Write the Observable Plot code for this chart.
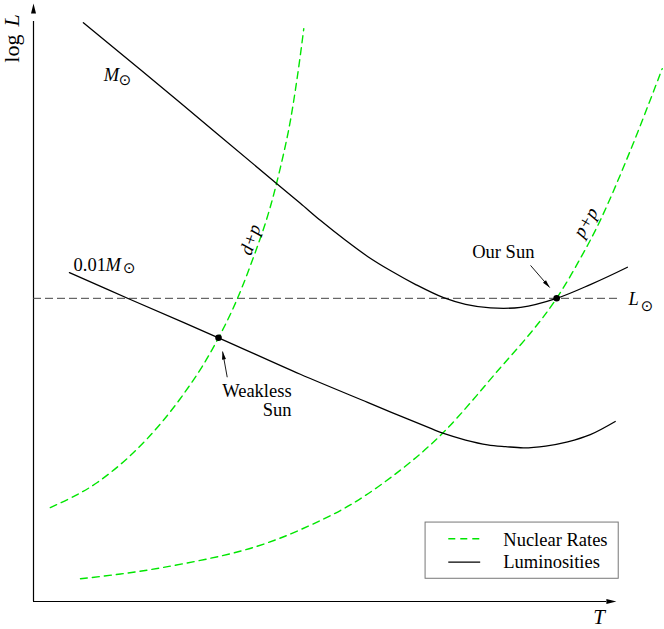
<!DOCTYPE html>
<html>
<head>
<meta charset="utf-8">
<script src="https://cdn.jsdelivr.net/npm/d3@7"></script>
<script src="https://cdn.jsdelivr.net/npm/@observablehq/plot@0.6"></script>
<style>
  html, body { margin: 0; padding: 0; background: #fff; }
  #chart svg { display: block; }
</style>
</head>
<body>
<div id="chart"></div>
<script>
// ---- Data (arbitrary units: T on 0–100, log L on 0–100) ----
// Luminosity of a 1 solar-mass star
const sunT = [8.6, 25.3, 41.9, 46.0, 49.5, 53.8, 57.6, 61.6, 65.9, 70.7, 74.5, 78.8, 84.0, 90.2, 96.0, 102.4];
const sunL = [96.8, 83.4, 69.9, 66.6, 63.7, 60.4, 57.7, 55.3, 53.0, 50.8, 49.7, 49.1, 49.2, 50.7, 53.0, 55.9];
// Luminosity of a 0.01 solar-mass star
const smallT = [6.2, 16.7, 31.9, 46.0, 57.6, 63.3, 68.6, 70.7, 74.5, 78.3, 81.4, 84.5, 88.3, 92.1, 96.0, 100.3];
const smallL = [55.0, 50.5, 44.1, 38.0, 33.3, 31.0, 28.9, 28.1, 27.0, 26.2, 25.9, 25.7, 26.0, 26.7, 27.9, 30.1];
// Nuclear rate d+p
const dpT = [2.9, 7.2, 11.0, 16.7, 22.4, 28.3, 31.9, 35.0, 38.8, 40.5, 41.9, 44.0, 45.5, 46.6];
const dpL = [15.7, 17.7, 19.9, 24.4, 30.3, 38.1, 44.1, 50.3, 59.9, 64.9, 69.9, 78.9, 87.8, 95.8];
// Nuclear rate p+p
const ppT = [8.1, 15.0, 22.4, 34.0, 40.0, 46.0, 54.7, 63.3, 70.7, 80.5, 86.2, 90.2, 94.3, 97.8, 102.9, 108.4];
const ppL = [3.8, 4.6, 5.7, 8.0, 9.7, 12.0, 16.2, 22.0, 28.3, 39.1, 45.5, 50.7, 57.4, 63.9, 75.4, 89.1];
// Solar luminosity level
const lSun = 50.7;
// Marked stars
const starNames = ["Our Sun", "Weakless Sun"];
const starT = [90.2, 31.9];
const starL = [50.7, 44.1];
// Legend entries
const legendNames = ["Nuclear Rates", "Luminosities"];

// ---- Build tables ----
const zip = (T, L) => T.map((t, i) => ({T: t, L: L[i]}));
const sunData = zip(sunT, sunL);
const smallData = zip(smallT, smallL);
const dpData = zip(dpT, dpL);
const ppData = zip(ppT, ppL);
const stars = starNames.map((n, i) => ({name: n, T: starT[i], L: starL[i]}));

// ---- Layout ----
const W = 664, H = 629;
const xDom = [0, 100], xRng = [33, 613];
const yDom = [0, 100], yRng = [601, 3];
const kx = (xRng[1] - xRng[0]) / (xDom[1] - xDom[0]);
const ky = (yRng[1] - yRng[0]) / (yDom[1] - yDom[0]);

const serif = "Liberation Serif, Times New Roman, serif";
const green = "#00e600";
const fs = 18.5;

// slender filled arrowhead, tip at origin, pointing up
const arrowHead = {
  draw(ctx, size) {
    const s = Math.sqrt(size / Math.PI);
    ctx.moveTo(0, 0);
    ctx.lineTo(s * 0.5, s * 2);
    ctx.lineTo(-s * 0.5, s * 2);
    ctx.closePath();
  }
};
const angleOf = (a) => {
  const dx = (a.x2 - a.x1) * kx, dy = (a.y2 - a.y1) * ky;
  return Math.atan2(dx, -dy) * 180 / Math.PI;
};

// annotation arrows (from label toward star)
const pointers = [
  {x1: 85.7, y1: 56.2, x2: 89.0, y2: 52.5},
  {x1: 33.4, y1: 37.5, x2: 32.6, y2: 41.8}
].map(a => ({...a, angle: angleOf(a)}));

const axisTips = [
  {x: 0, y: 100, angle: 0},
  {x: 100.5, y: 0, angle: 90}
];

const curve = "catmull-rom";

const chart = Plot.plot({
  width: W,
  height: H,
  marginLeft: 0, marginRight: 0, marginTop: 0, marginBottom: 0,
  style: {background: "white", fontFamily: serif},
  x: {domain: xDom, range: xRng, axis: null},
  y: {domain: yDom, range: yRng, axis: null},
  marks: [
    // axes
    Plot.ruleX([0], {y1: 0, y2: 97, stroke: "black", strokeWidth: 1.2}),
    Plot.ruleY([0], {x1: 0, x2: 98.8, stroke: "black", strokeWidth: 1.2}),
    Plot.dot(axisTips, {x: "x", y: "y", r: 5, symbol: arrowHead, rotate: "angle", fill: "black", stroke: "none"}),
    // solar luminosity level
    Plot.ruleY([lSun], {x1: 0, x2: 101.2, stroke: "#444", strokeWidth: 1, strokeDasharray: "8,4"}),
    // nuclear rates
    Plot.line(dpData, {x: "T", y: "L", curve, stroke: green, strokeWidth: 1.4, strokeDasharray: "7,5"}),
    Plot.line(ppData, {x: "T", y: "L", curve, stroke: green, strokeWidth: 1.4, strokeDasharray: "7,5"}),
    // luminosities
    Plot.line(sunData, {x: "T", y: "L", curve, stroke: "black", strokeWidth: 1.3}),
    Plot.line(smallData, {x: "T", y: "L", curve, stroke: "black", strokeWidth: 1.3}),
    // stars
    Plot.dot(stars, {x: "T", y: "L", r: 3.3, fill: "black", stroke: "none"}),
    // pointer arrows
    Plot.link(pointers, {x1: "x1", y1: "y1", x2: "x2", y2: "y2", stroke: "black", strokeWidth: 0.9}),
    Plot.dot(pointers, {x: "x2", y: "y2", r: 4, symbol: arrowHead, rotate: "angle", fill: "black", stroke: "none"}),
    // labels: upright
    Plot.text(["Our Sun"], {x: 81.0, y: 57.5, fontSize: fs, fontFamily: serif, textAnchor: "middle", lineAnchor: "bottom", fill: "black"}),
    Plot.text(["Weakless\nSun"], {x: 44.5, y: 31.0, fontSize: fs, fontFamily: serif, textAnchor: "end", lineAnchor: "bottom", lineHeight: 1.03, fill: "black"}),
    Plot.text(["0.01"], {x: 6.9, y: 55.2, fontSize: fs, fontFamily: serif, textAnchor: "start", lineAnchor: "bottom", fill: "black"}),
    // labels: italic math
    Plot.text(["M", "M", "L"], {x: [12.1, 12.4, 102.6], y: [87.0, 55.2, 49.5], fontSize: fs, fontFamily: serif, fontStyle: "italic", textAnchor: "start", lineAnchor: "bottom", fill: "black"}),
    Plot.text(["⊙", "⊙", "⊙"], {x: [15.8, 16.5, 105.8], y: [87.1, 55.8, 49.3], fontSize: 15, fontFamily: "DejaVu Sans", textAnchor: "middle", lineAnchor: "middle", fill: "black"}),
    Plot.text(["d+p"], {x: 37.4, y: 60.5, rotate: -71, fontSize: fs, fontFamily: serif, fontStyle: "italic", textAnchor: "middle", lineAnchor: "middle", fill: "black"}),
    Plot.text(["p+p"], {x: 95.2, y: 63.4, rotate: -60, fontSize: fs, fontFamily: serif, fontStyle: "italic", textAnchor: "middle", lineAnchor: "middle", fill: "black"}),
    // axis titles
    Plot.text(["log"], {x: -2.5, y: 90.1, rotate: -90, fontSize: 22, fontFamily: serif, textAnchor: "start", lineAnchor: "bottom", fill: "black"}),
    Plot.text(["L"], {x: -2.5, y: 98.2, rotate: -90, fontSize: 22, fontFamily: serif, fontStyle: "italic", textAnchor: "end", lineAnchor: "bottom", fill: "black"}),
    Plot.text(["T"], {x: 97.5, y: -3.8, fontSize: 21, fontFamily: serif, fontStyle: "italic", textAnchor: "middle", lineAnchor: "bottom", fill: "black"}),
    // legend
    Plot.rect([0], {x1: 67.6, x2: 100.9, y1: 3.8, y2: 13.2, fill: "white", stroke: "#777", strokeWidth: 1}),
    Plot.ruleY([10.5], {x1: 71.6, x2: 77.1, stroke: green, strokeWidth: 1.4, strokeDasharray: "7,5"}),
    Plot.ruleY([6.6], {x1: 71.6, x2: 77.1, stroke: "black", strokeWidth: 1.3}),
    Plot.text(legendNames, {x: 81.0, y: [9.2, 5.6], fontSize: fs, fontFamily: serif, textAnchor: "start", lineAnchor: "bottom", fill: "black"})
  ]
});
document.getElementById("chart").appendChild(chart);
</script>
</body>
</html>
